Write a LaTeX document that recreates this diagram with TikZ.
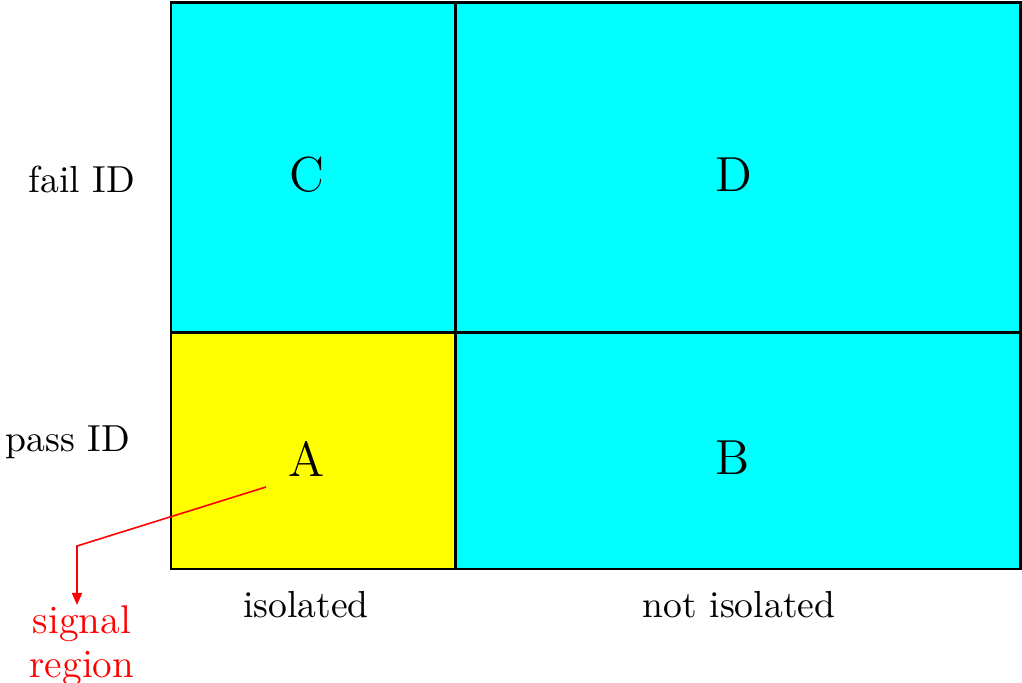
\documentclass[tikz,border=0pt]{standalone}
\usepackage{xcolor}
\usepackage{tikz}
\usetikzlibrary{arrows.meta, positioning}
\definecolor{regcyan}{HTML}{00FFFF}
\definecolor{regyellow}{HTML}{FFFF00}
\definecolor{sigred}{HTML}{FF0000}

\begin{document}
\begin{tikzpicture}[x=0.01cm, y=-0.01cm,
        cell/.style={draw=black, fill=regcyan, line width=0.85pt},
        letter/.style={anchor=base, inner sep=0pt, font=\fontsize{14}{17}\selectfont},
        axislabel/.style={anchor=base, inner sep=0pt, font=\fontsize{10.7}{13}\selectfont},
        sigtext/.style={text=sigred, align=center, inner sep=0pt,
                        font=\fontsize{11.4}{12.4}\selectfont},
        sigarrow/.style={draw=sigred, line width=0.45pt,
                         -{Triangle[length=1.2mm, width=1mm]}},
    ]
    \useasboundingbox (0,0) rectangle (1022,683);
    % the four regions
    \draw[cell] (171,3) rectangle (455,333);
    \draw[cell] (455,3) rectangle (1020,333);
    \draw[cell, fill=regyellow] (171,333) rectangle (455,569);
    \draw[cell] (455,333) rectangle (1020,569);
    \node[letter] (C) at (307,192) {C};
    \node[letter] (D) at (734,192) {D};
    \node[letter] (A) at (307,477) {A};
    \node[letter] (B) at (733,475) {B};
    % row and column labels
    \node[axislabel] (failid) at (82,193) {fail ID};
    \node[axislabel] (passid) at (68,452) {pass ID};
    \node[axislabel] (iso)    at (306,617) {isolated};
    \node[axislabel] (noiso)  at (739,617) {not isolated};
    % signal region pointer
    \node[sigtext, anchor=north] (signal) at (82,605) {signal\\region};
    \coordinate (sigstart) at (266,487);
    \coordinate (sigbend)  at (77,546);
    \draw[sigarrow] (sigstart) -- (sigbend) -- (sigbend |- signal.north);
\end{tikzpicture}
\end{document}
